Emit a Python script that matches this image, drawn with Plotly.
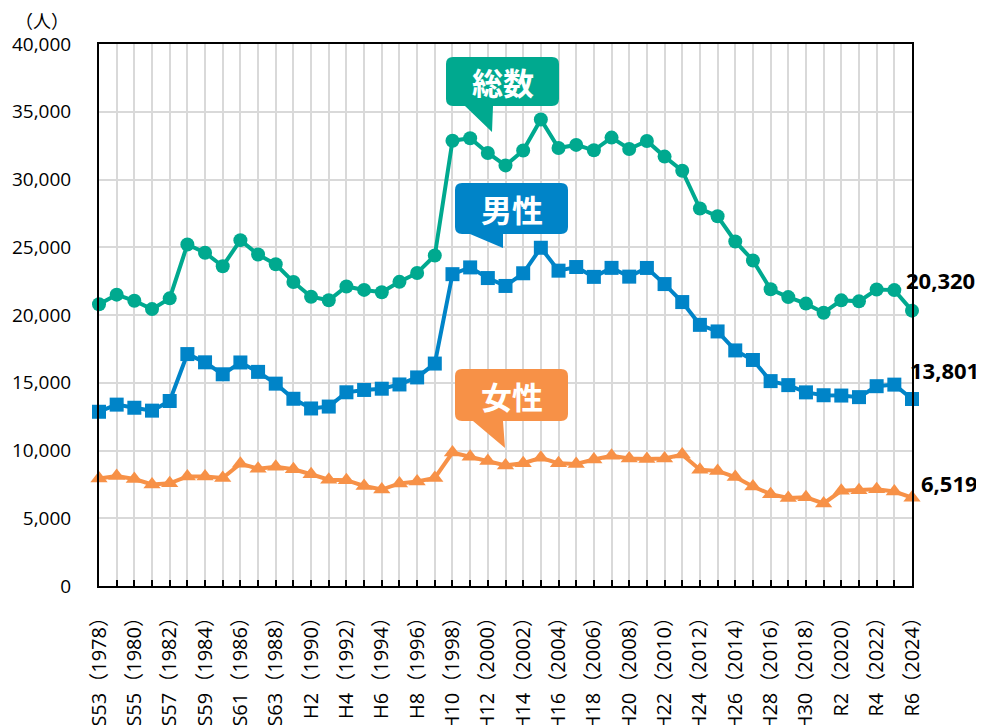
import plotly.graph_objects as go

years = list(range(1978, 2025))

total = [20788, 21503, 21048, 20434, 21228, 25202, 24596, 23599, 25524, 24460,
         23742, 22436, 21346, 21084, 22104, 21851, 21679, 22445, 23104, 24391,
         32863, 33048, 31957, 31042, 32143, 34427, 32325, 32552, 32155, 33093,
         32249, 32845, 31690, 30651, 27858, 27283, 25427, 24025, 21897, 21321,
         20840, 20169, 21081, 21007, 21881, 21837, 20320]

male = [12859, 13386, 13155, 12942, 13654, 17116, 16508, 15624, 16497, 15802,
        14934, 13818, 13102, 13242, 14296, 14468, 14560, 14874, 15393, 16416,
        23013, 23512, 22727, 22144, 23080, 24963, 23272, 23540, 22813, 23478,
        22831, 23472, 22283, 20955, 19273, 18787, 17386, 16681, 15121, 14826,
        14290, 14078, 14055, 13939, 14746, 14862, 13801]

female = [7929, 8117, 7893, 7492, 7574, 8086, 8088, 7975, 9027, 8658,
          8808, 8618, 8244, 7842, 7808, 7383, 7119, 7571, 7711, 7975,
          9850, 9536, 9230, 8898, 9063, 9464, 9053, 9012, 9342, 9615,
          9418, 9373, 9407, 9696, 8585, 8496, 8041, 7344, 6776, 6495,
          6550, 6091, 7026, 7068, 7135, 6975, 6519]

tick_labels = ["S53（1978）", "", "S55（1980）", "", "S57（1982）", "", "S59（1984）", "",
               "S61（1986）", "", "S63（1988）", "", "H2（1990）", "", "H4（1992）", "",
               "H6（1994）", "", "H8（1996）", "", "H10（1998）", "", "H12（2000）", "",
               "H14（2002）", "", "H16（2004）", "", "H18（2006）", "", "H20（2008）", "",
               "H22（2010）", "", "H24（2012）", "", "H26（2014）", "", "H28（2016）", "",
               "H30（2018）", "", "R2（2020）", "", "R4（2022）", "", "R6（2024）"]

series_names = ["総数", "男性", "女性"]
end_labels = ["20,320", "13,801", "6,519"]

GREEN = "#00A98F"
BLUE = "#0084C8"
ORANGE = "#F79147"
FONT = "Open Sans, Noto Sans CJK JP, sans-serif"
JFONT = "Noto Sans CJK JP, sans-serif"

# page offset (body margin of the html page)
OFF = 8
W, H = 984, 725
# plot area in page pixels: x 99..912, y 44..586
PL, PR, PT, PB = 99, 912, 44, 586
ML = PL - OFF
MT = PT - OFF
MR = W - (PR - OFF)
MB = H - (PB - OFF)
PW = PR - PL
PH = PB - PT


def px(x):
    return (x - PL) / PW


def py(y):
    return (PB - y) / PH


fig = go.Figure()

fig.add_trace(go.Scatter(x=years, y=female, mode="lines+markers", name=series_names[2],
                         line=dict(color=ORANGE, width=4),
                         marker=dict(symbol="triangle-up", size=15, color=ORANGE),
                         cliponaxis=False))
fig.add_trace(go.Scatter(x=years, y=male, mode="lines+markers", name=series_names[1],
                         line=dict(color=BLUE, width=4),
                         marker=dict(symbol="square", size=14, color=BLUE),
                         cliponaxis=False))
fig.add_trace(go.Scatter(x=years, y=total, mode="lines+markers", name=series_names[0],
                         line=dict(color=GREEN, width=4),
                         marker=dict(symbol="circle", size=14, color=GREEN),
                         cliponaxis=False))


def callout_path(x0, y0, x1, y1, tail, r=7):
    (ta, tb, tc) = tail
    pts = []
    pts.append(f"M{px(x0 + r)},{py(y0)}")
    pts.append(f"L{px(x1 - r)},{py(y0)}")
    pts.append(f"Q{px(x1)},{py(y0)} {px(x1)},{py(y0 + r)}")
    pts.append(f"L{px(x1)},{py(y1 - r)}")
    pts.append(f"Q{px(x1)},{py(y1)} {px(x1 - r)},{py(y1)}")
    pts.append(f"L{px(tb[0])},{py(y1)}")
    pts.append(f"L{px(tc[0])},{py(tc[1])}")
    pts.append(f"L{px(ta[0])},{py(y1)}")
    pts.append(f"L{px(x0 + r)},{py(y1)}")
    pts.append(f"Q{px(x0)},{py(y1)} {px(x0)},{py(y1 - r)}")
    pts.append(f"L{px(x0)},{py(y0 + r)}")
    pts.append(f"Q{px(x0)},{py(y0)} {px(x0 + r)},{py(y0)}")
    pts.append("Z")
    return " ".join(pts)


callouts = [
    (series_names[0], GREEN, (446, 57, 559, 106), ((465, 106), (493, 106), (492, 132))),
    (series_names[1], BLUE, (455, 183, 568, 234), ((470, 234), (503, 234), (503, 248))),
    (series_names[2], ORANGE, (455, 369, 568, 421), ((473, 421), (503, 421), (505, 448))),
]

shapes = []
annotations = []
for text, col, (x0, y0, x1, y1), tail in callouts:
    shapes.append(dict(type="path", xref="paper", yref="paper",
                       path=callout_path(x0, y0, x1, y1, tail),
                       fillcolor=col, line=dict(width=0), layer="above"))
    annotations.append(dict(xref="paper", yref="paper", x=px((x0 + x1) / 2), y=py((y0 + y1) / 2),
                            text=f"<b>{text}</b>", showarrow=False, xanchor="center", yanchor="middle",
                            font=dict(family=JFONT, size=31, color="white")))

# end labels
end_vals = [total[-1], male[-1], female[-1]]
end_shift = [(-8, 31), (-4, 29), (7, 15)]
for lab, v, (dx, dy) in zip(end_labels, end_vals, end_shift):
    annotations.append(dict(x=years[-1], y=v, xref="x", yref="y", text=f"<b>{lab}</b>",
                            showarrow=False, xanchor="left", yanchor="middle",
                            xshift=dx, yshift=dy,
                            font=dict(family=FONT, size=22, color="black")))

annotations.append(dict(xref="paper", yref="paper", x=px(42), y=py(20), text="（人）",
                        showarrow=False, xanchor="center", yanchor="middle",
                        font=dict(family=JFONT, size=18, color="black")))

fig.update_layout(
    width=W, height=H,
    margin=dict(l=ML, r=MR, t=MT, b=MB, autoexpand=False),
    paper_bgcolor="white", plot_bgcolor="white",
    showlegend=False,
    shapes=shapes, annotations=annotations,
    font=dict(family=FONT, size=19, color="black"),
)

fig.update_xaxes(range=[years[0], years[-1]], tickmode="array", tickvals=years, ticktext=tick_labels,
                 tickangle=-90, showgrid=True, gridcolor="#D9D9D9", gridwidth=1.5,
                 showline=True, linecolor="black", linewidth=2, mirror=True,
                 ticks="inside", ticklen=6, tickwidth=2, tickcolor="black",
                 ticklabelstandoff=11, zeroline=False, automargin=False,
                 tickfont=dict(family=FONT, size=20, color="black"))
fig.update_yaxes(range=[0, 40000], dtick=5000, tickformat=",", showgrid=True,
                 gridcolor="#D9D9D9", gridwidth=1.5,
                 showline=True, linecolor="black", linewidth=2, mirror=True,
                 ticks="", ticklabelstandoff=22, zeroline=False, automargin=False,
                 tickfont=dict(family=FONT, size=19, color="black"))

fig.write_html("out.html")
